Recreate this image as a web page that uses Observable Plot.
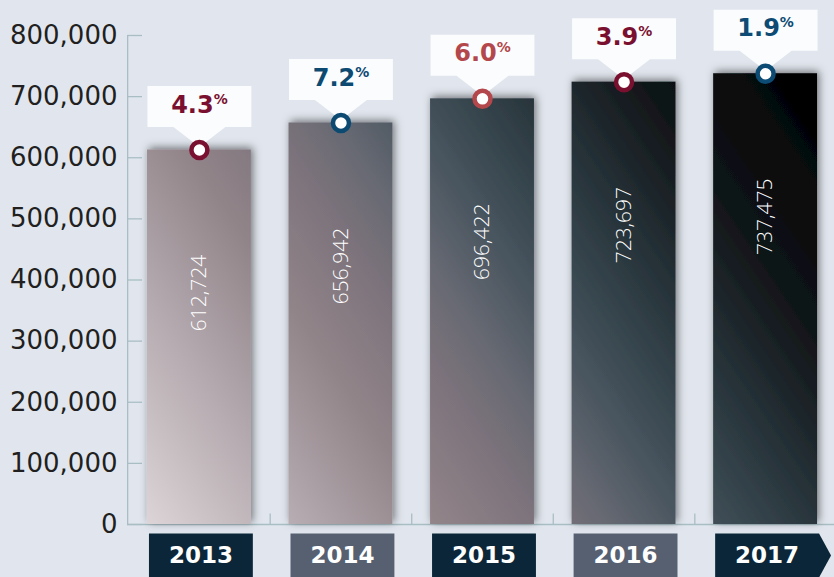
<!DOCTYPE html>
<html>
<head>
<meta charset="utf-8">
<script src="https://cdn.jsdelivr.net/npm/d3@7"></script>
<script src="https://cdn.jsdelivr.net/npm/@observablehq/plot@0.6"></script>
<style>
  html, body { margin: 0; padding: 0; background: #e1e6ee; }
  #chart { width: 834px; height: 577px; overflow: hidden; }
</style>
</head>
<body>
<div id="chart"></div>
<script>
// ---- data ----
const years = ["2013", "2014", "2015", "2016", "2017"];
const enrollment = [612724, 656942, 696422, 723697, 737475];
const growth = ["4.3%", "7.2%", "6.0%", "3.9%", "1.9%"];
const yTicks = [0, 100000, 200000, 300000, 400000, 500000, 600000, 700000, 800000];

// ---- styles ----
const growthColors = ["#7a1030", "#0c4a72", "#b3474b", "#7a1030", "#0c4b74"];
const yearBoxColors = ["#0b2639", "#566071", "#0b2639", "#566071", "#0b2639"];
const axisColor = "#a9bec4";
const W = 834, H = 577;
const mL = 127, mR = 0, mT = 35, mB = 53;
const xRange = [127, 837];
const pInner = 0.266, pOuter = 0.141;

const xb = d3.scaleBand(years, xRange).paddingInner(pInner).paddingOuter(pOuter);
const step = xb.step(), bw = xb.bandwidth(), hw = bw / 2;

// custom symbols (pixel geometry relative to anchor point)
const calloutSymbol = {draw(ctx) {
  ctx.moveTo(-hw, -64); ctx.lineTo(hw, -64); ctx.lineTo(hw, -23);
  ctx.lineTo(26, -23); ctx.lineTo(0, -3); ctx.lineTo(-26, -23);
  ctx.lineTo(-hw, -23); ctx.closePath();
}};
const yearBox = {draw(ctx) {
  ctx.moveTo(-hw, 9); ctx.lineTo(hw, 9); ctx.lineTo(hw, 53); ctx.lineTo(-hw, 53); ctx.closePath();
}};
const yearArrow = {draw(ctx) {
  ctx.moveTo(-hw, 9); ctx.lineTo(hw, 9); ctx.lineTo(hw + 12, 31); ctx.lineTo(hw, 53); ctx.lineTo(-hw, 53); ctx.closePath();
}};
const gapTick = {draw(ctx) { ctx.moveTo(0, 0); ctx.lineTo(0, -11); }};

const fmt = d3.format(",");

const chart = Plot.plot({
  width: W, height: H,
  marginLeft: mL, marginRight: mR, marginTop: mT, marginBottom: mB,
  style: {background: "#e1e6ee", fontFamily: "DejaVu Sans", fontSize: "26px", color: "#221f20", overflow: "visible"},
  x: {domain: years, range: xRange, paddingInner: pInner, paddingOuter: pOuter, round: false, axis: null},
  y: {domain: [0, 800000], ticks: yTicks, tickFormat: d => fmt(d), tickSize: 0, tickPadding: 10, label: null},
  color: {type: "identity"},
  marks: [
    // y axis line and ticks
    Plot.rect([0], {y1: 0, y2: 800000, insetRight: (W - mL - mR) - 1.3, fill: axisColor}),
    Plot.tickY(yTicks, {y: d => d, insetRight: (W - mL - mR) - 15, stroke: axisColor, strokeWidth: 1.3}),
    Plot.ruleY([0], {stroke: axisColor, strokeWidth: 1.5}),
    Plot.dot(years.slice(0, 4), {x: d => d, frameAnchor: "bottom", dx: step / 2, symbol: gapTick, stroke: axisColor, strokeWidth: 1.3, fill: "none"}),
    // bars
    Plot.barY(enrollment, {x: years, y: enrollment, fill: "url(#barGrad)", ariaDescription: "bars"}),
    // callouts
    Plot.dot(enrollment, {x: years, y: enrollment, symbol: calloutSymbol, fill: "#fbfcfd", stroke: "none"}),
    Plot.text(growth, {x: years, y: enrollment, text: d => d, dy: -45, fill: (d, i) => growthColors[i],
      fontFamily: "DejaVu Sans", fontWeight: "bold", fontSize: 24, ariaDescription: "pct"}),
    Plot.dot(enrollment, {x: years, y: enrollment, r: 8, fill: "white", stroke: (d, i) => growthColors[i], strokeWidth: 4.5}),
    // value labels in bars
    Plot.text(enrollment, {x: years, y: enrollment, text: d => fmt(d), rotate: -90, dy: 143, fill: "white",
      fontFamily: "Open Sans", fontWeight: 300, fontSize: 21}),
    // year boxes
    Plot.dot(years, {x: d => d, frameAnchor: "bottom", dx: 1.5, symbol: yearBox, fill: (d, i) => yearBoxColors[i], stroke: "none",
      filter: (d, i) => i < years.length - 1}),
    Plot.dot(years, {x: d => d, frameAnchor: "bottom", dx: 1.5, symbol: yearArrow, fill: (d, i) => yearBoxColors[i], stroke: "none",
      filter: (d, i) => i === years.length - 1}),
    Plot.text(years, {x: d => d, frameAnchor: "bottom", dy: 38, dx: 1.5, text: d => d, fill: "white",
      fontFamily: "DejaVu Sans", fontWeight: "bold", fontSize: 23})
  ]
});

document.getElementById("chart").appendChild(chart);

// defs: gradient across the bars and drop shadow
const svg = d3.select(chart);
const defs = svg.insert("defs", ":first-child");
const x0 = xb(years[0]), x1 = xb(years[years.length - 1]) + bw;
const yS = d3.scaleLinear([0, 800000], [H - mB, mT]);
const grad = defs.append("linearGradient").attr("id", "barGrad").attr("gradientUnits", "userSpaceOnUse")
  .attr("x1", x0).attr("y1", yS(0)).attr("x2", x1).attr("y2", yS(d3.max(enrollment)));
[[0, "#dcd4d6"], [0.15, "#b6acb1"], [0.3, "#918489"], [0.4, "#7d737c"], [0.47, "#686a73"],
 [0.55, "#4a5660"], [0.62, "#37464e"], [0.7, "#263238"], [0.82, "#101417"], [1, "#000000"]]
  .forEach(([o, c]) => grad.append("stop").attr("offset", o).attr("stop-color", c));
const f = defs.append("filter").attr("id", "barShadow").attr("x", "-20%").attr("y", "-20%").attr("width", "140%").attr("height", "140%");
f.append("feDropShadow").attr("dx", 2).attr("dy", -2).attr("stdDeviation", 4.5).attr("flood-color", "#000").attr("flood-opacity", 0.5);

function groupOf(desc) {
  return svg.selectAll("g").filter(function () {
    return this.getAttribute("aria-description") === desc || this.getAttribute("aria-label") === desc;
  });
}
let barGroup = groupOf("bars");
if (barGroup.empty()) barGroup = svg.selectAll('g[aria-label="bar"]');
barGroup.attr("filter", "url(#barShadow)");

// superscript percent signs
let pctTexts = groupOf("pct").selectAll("text");
if (pctTexts.empty()) pctTexts = svg.selectAll("text").filter(function () { return /%$/.test(this.textContent); });
pctTexts.each(function () {
  const t = this.textContent;
  const sel = d3.select(this);
  sel.text(t.replace("%", ""));
  sel.append("tspan").attr("font-size", 14).attr("dy", -9).text("%");
});
</script>
</body>
</html>
